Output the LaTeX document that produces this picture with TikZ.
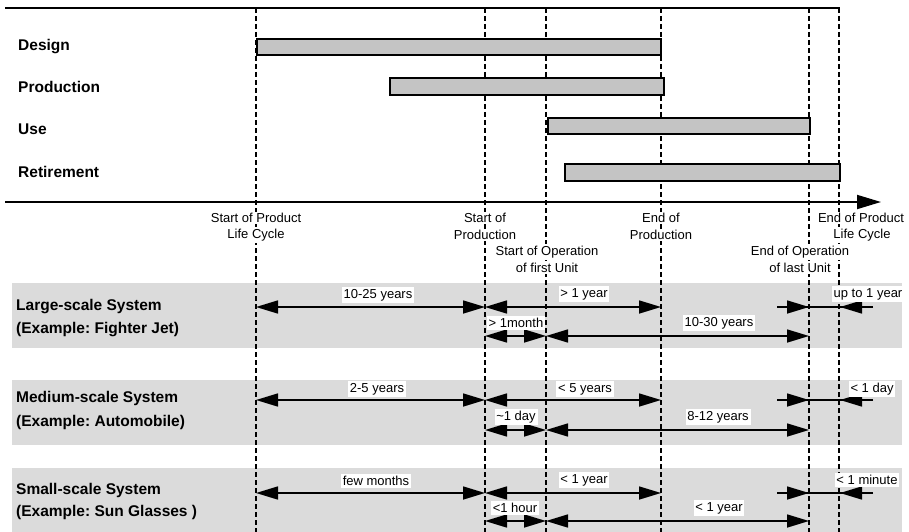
\documentclass[tikz,border=0pt]{standalone}
\usepackage{fontspec}
\setmainfont{Liberation Sans}
\usetikzlibrary{arrows.meta}
\definecolor{bandgray}{gray}{0.86}
\definecolor{bargray}{gray}{0.77}
\frenchspacing
\begin{document}
\begin{tikzpicture}[x=1pt,y=-1pt,
  phase/.style={font=\fontsize{15.5}{18}\selectfont\bfseries, anchor=west, inner sep=0pt},
  mile/.style={font=\fontsize{13}{15}\selectfont, fill=white, inner sep=1.5pt},
  dur/.style={font=\fontsize{13}{15}\selectfont, fill=white, inner sep=1.8pt},
  band/.style={fill=bandgray, draw=none},
  bar/.style={fill=bargray, draw=black, line width=1.5pt},
  vline/.style={dash pattern=on 5pt off 3pt, line width=1.4pt},
  dim/.style={line width=1.6pt, {Triangle[length=22pt,width=13pt]}-{Triangle[length=22pt,width=13pt]}},
  half/.style={line width=1.6pt, -{Triangle[length=22pt,width=13pt]}},
  plain/.style={line width=1.6pt},
  axis/.style={line width=1.8pt}
]
\useasboundingbox (0,0) rectangle (909,532);

% bands
\fill[band] (12,283) rectangle (902,348);
\fill[band] (12,380) rectangle (902,445);
\fill[band] (12,468) rectangle (902,532);

% vertical dashed milestone lines
\foreach \n/\x in {A/256,B/485,C/546,D/661,E/809,F/839}{
  \coordinate (top\n) at (\x,8);
  \coordinate (bot\n) at (\x,532);
  \draw[vline] (top\n) -- (bot\n);
}

% phase bars
\node[bar, minimum width=404pt, minimum height=16pt, inner sep=0pt, anchor=west] (design) at (256,47) {};
\node[bar, minimum width=274pt, minimum height=17pt, inner sep=0pt, anchor=west] (production) at (389,86.5) {};
\node[bar, minimum width=262pt, minimum height=16pt, inner sep=0pt, anchor=west] (use) at (547,126) {};
\node[bar, minimum width=275pt, minimum height=17pt, inner sep=0pt, anchor=west] (retirement) at (564,172.5) {};

% top rule and time axis
\coordinate (tl) at (5,8);
\coordinate (tr) at (840,8);
\draw[axis] (tl) -- (tr);
\coordinate (al) at (5,202);
\coordinate (ar) at (881,202);
\draw[axis, -{Triangle[length=24pt,width=14pt]}] (al) -- (ar);

% phase labels
\node[phase] (lDesign) at (18,47) {Design};
\node[phase] (lProd) at (18,87) {Production};
\node[phase] (lUse) at (18,129) {Use};
\node[phase] (lRet) at (18,172) {Retirement};

% milestone labels
\node[mile] (m1a) at (256,218) {Start of Product};
\node[mile] (m1b) at (256,235) {Life Cycle};
\node[mile] (m2a) at (485,218) {Start of};
\node[mile] (m2b) at (485,235) {Production};
\node[mile] (m3a) at (547,252) {Start of Operation};
\node[mile] (m3b) at (547,268) {of first Unit};
\node[mile] (m4a) at (661,218) {End of};
\node[mile] (m4b) at (661,235) {Production};
\node[mile] (m5a) at (800,252) {End of Operation};
\node[mile] (m5b) at (800,268) {of last Unit};
\node[mile] (m6a) at (861,218) {End of Product};
\node[mile] (m6b) at (862,235) {Life Cycle};

% system labels
\node[phase] (s1a) at (16,307) {Large-scale System};
\node[phase] (s1b) at (16,330) {(Example: Fighter Jet)};
\node[phase] (s2a) at (16,398) {Medium-scale System};
\node[phase] (s2b) at (16,422) {(Example: Automobile)};
\node[phase] (s3a) at (16,490) {Small-scale System};
\node[phase] (s3b) at (16,512) {(Example: Sun Glasses )};

% row coordinates on the milestone lines
\foreach \r/\y in {1/307,2/336,3/400,4/430,5/493,6/521}{
  \coordinate (pA\r) at (256,\y);
  \coordinate (pB\r) at (485,\y);
  \coordinate (pC\r) at (546,\y);
  \coordinate (pD\r) at (661,\y);
  \coordinate (pE\r) at (809,\y);
  \coordinate (pF\r) at (840,\y);
  \coordinate (pL\r) at (777,\y);
  \coordinate (pR\r) at (873,\y);
}
% first row of each system: design, production, retirement spans
\foreach \r in {1,3,5}{
  \draw[dim] (pA\r) -- (pB\r);
  \draw[dim] (pB\r) -- (pD\r);
  \draw[plain] (pL\r) -- (pR\r);
  \draw[half] (pL\r) -- (pE\r);
  \draw[half] (pR\r) -- (pF\r);
}
% second row: start-up and operation spans
\foreach \r in {2,4,6}{
  \draw[dim] (pB\r) -- (pC\r);
  \draw[dim] (pC\r) -- (pE\r);
}

% duration labels
\node[dur] (d1a) at (378,295) {10-25 years};
\node[dur] (d1b) at (584,294) {> 1 year};
\node[dur] (d1c) at (868,294) {up to 1 year};
\node[dur] (d1d) at (516,323) {> 1month};
\node[dur] (d1e) at (719,323) {10-30 years};

\node[dur] (d2a) at (377,389) {2-5 years};
\node[dur] (d2b) at (585,389) {< 5 years};
\node[dur] (d2c) at (872,389) {< 1 day};
\node[dur] (d2d) at (516,417) {\textasciitilde 1 day};
\node[dur] (d2e) at (718,417) {8-12 years};

\node[dur] (d3a) at (376,481) {few months};
\node[dur] (d3b) at (584,480) {< 1 year};
\node[dur] (d3c) at (867,480) {< 1 minute};
\node[dur] (d3d) at (515,508) {<1 hour};
\node[dur] (d3e) at (719,508) {< 1 year};
\end{tikzpicture}
\end{document}
